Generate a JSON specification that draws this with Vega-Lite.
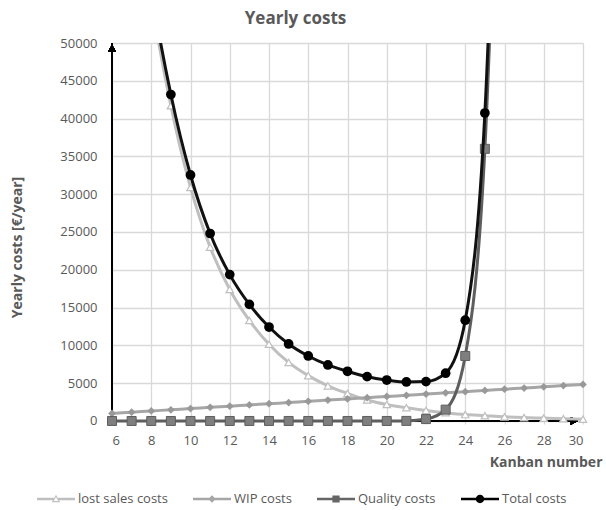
{
  "$schema": "https://vega.github.io/schema/vega-lite/v6.json",
  "width": 471,
  "height": 381,
  "autosize": {"type": "none"},
  "padding": {"left": 112, "top": 43, "right": 23, "bottom": 86},
  "background": "white",
  "title": {
    "text": "Yearly costs",
    "fontSize": 17,
    "fontWeight": "bold",
    "color": "#595959",
    "font": "Open Sans",
    "anchor": "middle",
    "frame": "group",
    "dx": -52,
    "baseline": "alphabetic",
    "offset": -4
  },
  "config": {
    "view": {"stroke": null},
    "font": "Open Sans",
    "axis": {
      "grid": true,
      "gridColor": "#D9D9D9",
      "gridWidth": 1.3,
      "ticks": false,
      "tickSize": 0,
      "labelOverlap": false,
      "labelFont": "Open Sans",
      "labelFontSize": 13,
      "labelColor": "#595959",
      "titleFont": "Open Sans",
      "titleFontSize": 14,
      "titleFontWeight": "bold",
      "titleColor": "#595959"
    },
    "legend": {
      "labelFont": "Open Sans",
      "labelFontSize": 13,
      "labelColor": "#595959"
    }
  },
  "data": {
    "values": [
      {"k": 6, "series": "lost sales costs", "cost": 103000},
      {"k": 7, "series": "lost sales costs", "cost": 76000},
      {"k": 8, "series": "lost sales costs", "cost": 56000},
      {"k": 9, "series": "lost sales costs", "cost": 41700},
      {"k": 10, "series": "lost sales costs", "cost": 30900},
      {"k": 11, "series": "lost sales costs", "cost": 23000},
      {"k": 12, "series": "lost sales costs", "cost": 17400},
      {"k": 13, "series": "lost sales costs", "cost": 13300},
      {"k": 14, "series": "lost sales costs", "cost": 10150},
      {"k": 15, "series": "lost sales costs", "cost": 7750},
      {"k": 16, "series": "lost sales costs", "cost": 6000},
      {"k": 17, "series": "lost sales costs", "cost": 4650},
      {"k": 18, "series": "lost sales costs", "cost": 3650},
      {"k": 19, "series": "lost sales costs", "cost": 2780},
      {"k": 20, "series": "lost sales costs", "cost": 2180},
      {"k": 21, "series": "lost sales costs", "cost": 1750},
      {"k": 22, "series": "lost sales costs", "cost": 1400},
      {"k": 23, "series": "lost sales costs", "cost": 1100},
      {"k": 24, "series": "lost sales costs", "cost": 850},
      {"k": 25, "series": "lost sales costs", "cost": 700},
      {"k": 26, "series": "lost sales costs", "cost": 550},
      {"k": 27, "series": "lost sales costs", "cost": 450},
      {"k": 28, "series": "lost sales costs", "cost": 380},
      {"k": 29, "series": "lost sales costs", "cost": 300},
      {"k": 30, "series": "lost sales costs", "cost": 230},

      {"k": 6, "series": "WIP costs", "cost": 1000},
      {"k": 7, "series": "WIP costs", "cost": 1160},
      {"k": 8, "series": "WIP costs", "cost": 1320},
      {"k": 9, "series": "WIP costs", "cost": 1480},
      {"k": 10, "series": "WIP costs", "cost": 1640},
      {"k": 11, "series": "WIP costs", "cost": 1800},
      {"k": 12, "series": "WIP costs", "cost": 1960},
      {"k": 13, "series": "WIP costs", "cost": 2120},
      {"k": 14, "series": "WIP costs", "cost": 2280},
      {"k": 15, "series": "WIP costs", "cost": 2440},
      {"k": 16, "series": "WIP costs", "cost": 2600},
      {"k": 17, "series": "WIP costs", "cost": 2760},
      {"k": 18, "series": "WIP costs", "cost": 2920},
      {"k": 19, "series": "WIP costs", "cost": 3080},
      {"k": 20, "series": "WIP costs", "cost": 3240},
      {"k": 21, "series": "WIP costs", "cost": 3400},
      {"k": 22, "series": "WIP costs", "cost": 3560},
      {"k": 23, "series": "WIP costs", "cost": 3720},
      {"k": 24, "series": "WIP costs", "cost": 3880},
      {"k": 25, "series": "WIP costs", "cost": 4040},
      {"k": 26, "series": "WIP costs", "cost": 4200},
      {"k": 27, "series": "WIP costs", "cost": 4360},
      {"k": 28, "series": "WIP costs", "cost": 4520},
      {"k": 29, "series": "WIP costs", "cost": 4680},
      {"k": 30, "series": "WIP costs", "cost": 4840},

      {"k": 6, "series": "Quality costs", "cost": 0},
      {"k": 7, "series": "Quality costs", "cost": 0},
      {"k": 8, "series": "Quality costs", "cost": 0},
      {"k": 9, "series": "Quality costs", "cost": 0},
      {"k": 10, "series": "Quality costs", "cost": 0},
      {"k": 11, "series": "Quality costs", "cost": 0},
      {"k": 12, "series": "Quality costs", "cost": 0},
      {"k": 13, "series": "Quality costs", "cost": 0},
      {"k": 14, "series": "Quality costs", "cost": 0},
      {"k": 15, "series": "Quality costs", "cost": 0},
      {"k": 16, "series": "Quality costs", "cost": 0},
      {"k": 17, "series": "Quality costs", "cost": 0},
      {"k": 18, "series": "Quality costs", "cost": 0},
      {"k": 19, "series": "Quality costs", "cost": 0},
      {"k": 20, "series": "Quality costs", "cost": 0},
      {"k": 21, "series": "Quality costs", "cost": 10},
      {"k": 22, "series": "Quality costs", "cost": 250},
      {"k": 23, "series": "Quality costs", "cost": 1500},
      {"k": 24, "series": "Quality costs", "cost": 8600},
      {"k": 25, "series": "Quality costs", "cost": 36000},
      {"k": 26, "series": "Quality costs", "cost": 110000},

      {"k": 6, "series": "Total costs", "cost": 104000},
      {"k": 7, "series": "Total costs", "cost": 77160},
      {"k": 8, "series": "Total costs", "cost": 57320},
      {"k": 9, "series": "Total costs", "cost": 43180},
      {"k": 10, "series": "Total costs", "cost": 32540},
      {"k": 11, "series": "Total costs", "cost": 24800},
      {"k": 12, "series": "Total costs", "cost": 19360},
      {"k": 13, "series": "Total costs", "cost": 15420},
      {"k": 14, "series": "Total costs", "cost": 12430},
      {"k": 15, "series": "Total costs", "cost": 10190},
      {"k": 16, "series": "Total costs", "cost": 8600},
      {"k": 17, "series": "Total costs", "cost": 7410},
      {"k": 18, "series": "Total costs", "cost": 6570},
      {"k": 19, "series": "Total costs", "cost": 5860},
      {"k": 20, "series": "Total costs", "cost": 5420},
      {"k": 21, "series": "Total costs", "cost": 5160},
      {"k": 22, "series": "Total costs", "cost": 5210},
      {"k": 23, "series": "Total costs", "cost": 6320},
      {"k": 24, "series": "Total costs", "cost": 13330},
      {"k": 25, "series": "Total costs", "cost": 40740},
      {"k": 26, "series": "Total costs", "cost": 114300}
    ]
  },
  "layer": [
    {
      "mark": {"type": "rule", "color": "#000000", "strokeWidth": 1.3},
      "encoding": {
        "x": {
          "datum": 6,
          "type": "quantitative",
          "scale": {"domain": [6, 30], "nice": false, "zero": false},
          "axis": {
            "title": "Kanban number",
            "values": [6, 8, 10, 12, 14, 16, 18, 20, 22, 24, 26, 28, 30],
            "tickCount": 30,
            "format": "d",
            "domain": false,
            "labelOverlap": false,
            "labelPadding": 10,
            "titleX": 490,
            "titleY": 38,
            "titleAlign": "right",
            "titleBaseline": "middle",
            "titleAngle": 0
          }
        },
        "x2": {"datum": 29.6},
        "y": {
          "datum": 0,
          "type": "quantitative",
          "scale": {"domain": [-400, 50000], "nice": false, "zero": false},
          "axis": {
            "title": "Yearly costs [€/year]",
            "values": [0, 5000, 10000, 15000, 20000, 25000, 30000, 35000, 40000, 45000, 50000],
            "tickCount": 30,
            "format": "d",
            "domain": false,
            "labelOverlap": false,
            "labelPadding": 15,
            "titleX": -95,
            "titleY": 204,
            "titleAlign": "center",
            "titleBaseline": "middle",
            "titleAngle": -90
          }
        }
      }
    },
    {
      "mark": {"type": "rule", "color": "#000000", "strokeWidth": 1.3},
      "encoding": {
        "x": {"datum": 6, "type": "quantitative"},
        "y": {"datum": 0, "type": "quantitative"},
        "y2": {"datum": 50000}
      }
    },
    {
      "mark": {"type": "point", "shape": "triangle-up", "filled": true, "color": "#000000", "opacity": 1, "size": 60},
      "encoding": {
        "x": {"datum": 6, "type": "quantitative"},
        "y": {"datum": 49300, "type": "quantitative"}
      }
    },
    {
      "mark": {"type": "point", "shape": "triangle-right", "filled": true, "color": "#000000", "opacity": 1, "size": 60},
      "encoding": {
        "x": {"datum": 29.55, "type": "quantitative"},
        "y": {"datum": 0, "type": "quantitative"}
      }
    },
    {
      "transform": [{"filter": "datum.series === 'lost sales costs'"}],
      "mark": {"type": "line", "color": "#BFBFBF", "strokeWidth": 3, "interpolate": "monotone", "clip": true},
      "encoding": {
        "x": {"field": "k", "type": "quantitative"},
        "y": {"field": "cost", "type": "quantitative"}
      }
    },
    {
      "transform": [{"filter": "datum.series === 'lost sales costs' && datum.cost <= 50000"}],
      "mark": {"type": "point", "shape": "triangle-up", "filled": true, "fill": "#FFFFFF", "stroke": "#BFBFBF", "strokeWidth": 1.2, "opacity": 1, "size": 55},
      "encoding": {
        "x": {"field": "k", "type": "quantitative"},
        "y": {"field": "cost", "type": "quantitative"}
      }
    },
    {
      "transform": [{"filter": "datum.series === 'WIP costs'"}],
      "mark": {"type": "line", "color": "#A6A6A6", "strokeWidth": 3, "interpolate": "monotone", "clip": true},
      "encoding": {
        "x": {"field": "k", "type": "quantitative"},
        "y": {"field": "cost", "type": "quantitative"}
      }
    },
    {
      "transform": [{"filter": "datum.series === 'WIP costs' && datum.cost <= 50000"}],
      "mark": {"type": "point", "shape": "diamond", "filled": true, "fill": "#999999", "strokeWidth": 0, "opacity": 1, "size": 60},
      "encoding": {
        "x": {"field": "k", "type": "quantitative"},
        "y": {"field": "cost", "type": "quantitative"}
      }
    },
    {
      "transform": [{"filter": "datum.series === 'Quality costs'"}],
      "mark": {"type": "line", "color": "#5E5E5E", "strokeWidth": 3, "interpolate": "monotone", "clip": true},
      "encoding": {
        "x": {"field": "k", "type": "quantitative"},
        "y": {"field": "cost", "type": "quantitative"}
      }
    },
    {
      "transform": [{"filter": "datum.series === 'Quality costs' && datum.cost <= 50000"}],
      "mark": {"type": "point", "shape": "square", "filled": true, "fill": "#7F7F7F", "stroke": "#5E5E5E", "strokeWidth": 1, "opacity": 1, "size": 81},
      "encoding": {
        "x": {"field": "k", "type": "quantitative"},
        "y": {"field": "cost", "type": "quantitative"}
      }
    },
    {
      "transform": [{"filter": "datum.series === 'Total costs'"}],
      "mark": {"type": "line", "color": "#111111", "strokeWidth": 3, "interpolate": "monotone", "clip": true},
      "encoding": {
        "x": {"field": "k", "type": "quantitative"},
        "y": {"field": "cost", "type": "quantitative"}
      }
    },
    {
      "transform": [{"filter": "datum.series === 'Total costs' && datum.cost <= 50000"}],
      "mark": {"type": "point", "shape": "circle", "filled": true, "fill": "#000000", "strokeWidth": 0, "opacity": 1, "size": 95},
      "encoding": {
        "x": {"field": "k", "type": "quantitative"},
        "y": {"field": "cost", "type": "quantitative"}
      }
    },
    {
      "transform": [{"filter": "datum.k > 1000"}],
      "mark": {"type": "point", "filled": true, "opacity": 1, "strokeWidth": 0},
      "encoding": {
        "shape": {
          "field": "series",
          "type": "nominal",
          "scale": {
            "domain": ["lost sales costs", "WIP costs", "Quality costs", "Total costs"],
            "range": [
              "M-1,-0.07H-0.1V0.07H-1Z M0.1,-0.07H1V0.07H0.1Z M0,-0.22L0.22,0.17L-0.22,0.17Z M0,-0.1L-0.12,0.11L0.12,0.11Z",
              "M-1,-0.07H1V0.07H-1Z M0,-0.2L0.2,0L0,0.2L-0.2,0Z",
              "M-1,-0.07H1V0.07H-1Z M-0.19,-0.19H0.19V0.19H-0.19Z",
              "M-1,-0.07H1V0.07H-1Z M0.22,0A0.22,0.22 0 1 1 -0.22,0A0.22,0.22 0 1 1 0.22,0Z"
            ]
          },
          "legend": {
            "title": null,
            "orient": "none",
            "direction": "horizontal",
            "legendX": -75,
            "legendY": 437,
            "symbolSize": 1444,
            "symbolStrokeWidth": 0,
            "symbolOpacity": 1,
            "labelOffset": 3,
            "columnPadding": 25
          }
        },
        "fill": {
          "field": "series",
          "type": "nominal",
          "scale": {
            "domain": ["lost sales costs", "WIP costs", "Quality costs", "Total costs"],
            "range": ["#BFBFBF", "#A6A6A6", "#666666", "#000000"]
          },
          "legend": {
            "title": null,
            "orient": "none",
            "direction": "horizontal",
            "legendX": -75,
            "legendY": 437,
            "symbolSize": 1444,
            "symbolStrokeWidth": 0,
            "symbolOpacity": 1,
            "labelOffset": 3,
            "columnPadding": 25
          }
        }
      }
    }
  ]
}
